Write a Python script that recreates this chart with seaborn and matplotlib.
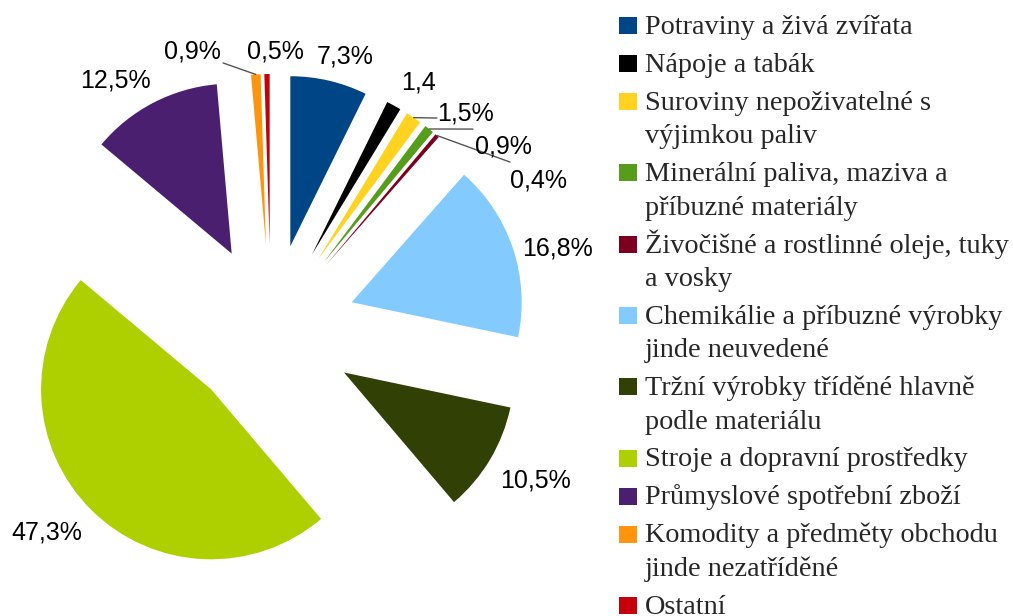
import matplotlib
matplotlib.use("Agg")
import matplotlib.pyplot as plt
import numpy as np
import seaborn as sns
from matplotlib.patches import Rectangle

# data
categories = [
    "Potraviny a živá zvířata",
    "Nápoje a tabák",
    "Suroviny nepoživatelné s\nvýjimkou paliv",
    "Minerální paliva, maziva a\npříbuzné materiály",
    "Živočišné a rostlinné oleje, tuky\na vosky",
    "Chemikálie a příbuzné výrobky\njinde neuvedené",
    "Tržní výrobky tříděné hlavně\npodle materiálu",
    "Stroje a dopravní prostředky",
    "Průmyslové spotřební zboží",
    "Komodity a předměty obchodu\njinde nezatříděné",
    "Ostatní",
]
shares = [7.3, 1.4, 1.5, 0.9, 0.4, 16.8, 10.5, 47.3, 12.5, 0.9, 0.5]
value_labels = ["7,3%", "1,4", "1,5%", "0,9%", "0,4%", "16,8%",
                "10,5%", "47,3%", "12,5%", "0,9%", "0,5%"]
colors = ["#004586", "#000000", "#ffd320", "#579d1c", "#7e0021", "#83caff",
          "#314004", "#aecf00", "#4b1f6f", "#ff950e", "#c5000b"]

# layout (pie units: radius = 1, pie centre = 0,0)
W, H = 1013, 616
R_PX = 170
CX, CY = 271, 329
label_xy = [(0.435, 1.559), (0.865, 1.406), (1.147, 1.229), (1.365, 1.035),
            (1.571, 0.835), (1.688, 0.435), (1.553, -0.935), (-1.318, -1.241),
            (-0.918, 1.418), (-0.465, 1.594), (0.024, 1.594)]
# leader line end points for the thin slices
leaders = {2: (0.976, 1.241), 3: (1.188, 1.176), 4: (1.406, 0.982), 9: (-0.282, 1.565)}

sns.set_theme(style="white")
plt.rcParams["font.family"] = ["Liberation Sans", "DejaVu Sans"]

fig = plt.figure(figsize=(W / 100, H / 100), dpi=100)
ax = fig.add_axes([0, 0, 1, 1])

wedges, _ = ax.pie(
    shares,
    colors=colors,
    startangle=90,
    counterclock=False,
    explode=[0.5] * len(shares),
    radius=1,
    wedgeprops=dict(linewidth=0, antialiased=True),
)

ax.set_xlim(-CX / R_PX, (W - CX) / R_PX)
ax.set_ylim(-(H - CY) / R_PX, CY / R_PX)
ax.set_aspect("equal", adjustable="box")
ax.axis("off")

for i, (txt, (x, y)) in enumerate(zip(value_labels, label_xy)):
    ax.text(x, y, txt, ha="center", va="baseline", fontsize=18, color="black")
    if i in leaders:
        w = wedges[i]
        mid = np.deg2rad((w.theta1 + w.theta2) / 2)
        px = w.center[0] + w.r * np.cos(mid)
        py = w.center[1] + w.r * np.sin(mid)
        ex, ey = leaders[i]
        ax.plot([px, ex], [py, ey], color="#555555", lw=1.0)

# legend, drawn by hand so the marker sits on the first line
base = 34
for cat, col in zip(categories, colors):
    lines = cat.split("\n")
    fig.patches.append(Rectangle((619 / W, 1 - base / H), 18 / W, 17 / H,
                                 transform=fig.transFigure, color=col, lw=0))
    for j, line in enumerate(lines):
        fig.text(645 / W, 1 - base / H, line, ha="left", va="baseline",
                 fontsize=20.3, family=["Liberation Serif", "DejaVu Serif"])
        if j < len(lines) - 1:
            base += 33.3
    base += 38

fig.savefig("out.png", dpi=100, facecolor="white")
